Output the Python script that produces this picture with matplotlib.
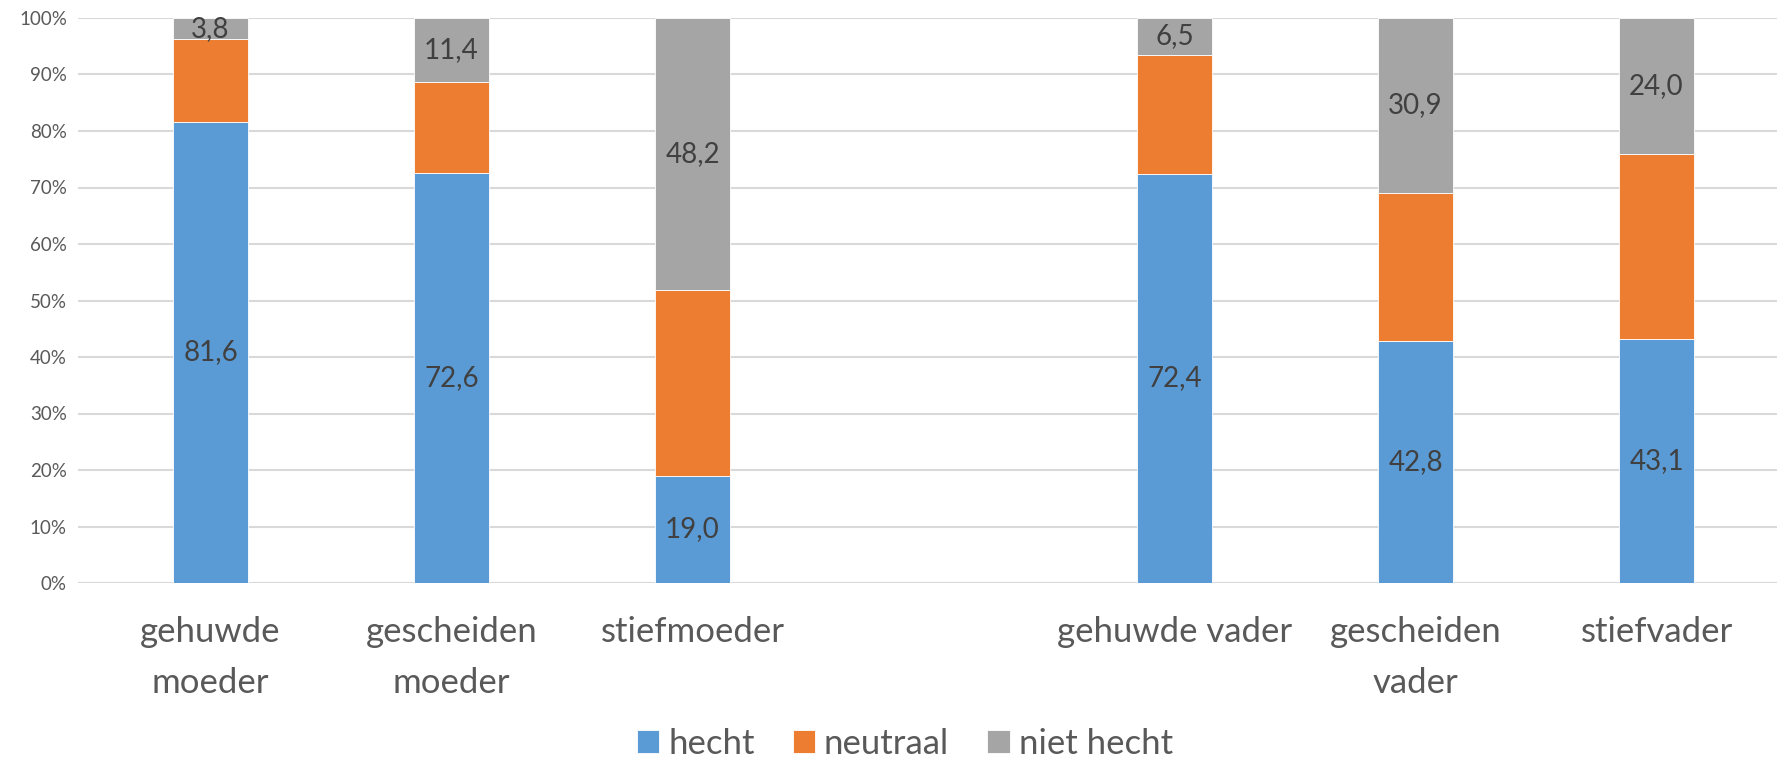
import matplotlib
matplotlib.use("Agg")
import matplotlib.pyplot as plt
import numpy as np

plt.rcParams['font.family'] = ['Lato', 'DejaVu Sans']

# Data (percentages)
categories = ["gehuwde\nmoeder", "gescheiden\nmoeder", "stiefmoeder",
              "gehuwde vader", "gescheiden\nvader", "stiefvader"]
positions = [0, 1, 2, 4, 5, 6]  # empty slot between mothers and fathers
hecht = [81.6, 72.6, 19.0, 72.4, 42.8, 43.1]
niet_hecht = [3.8, 11.4, 48.2, 6.5, 30.9, 24.0]
neutraal = [round(100 - h - n, 1) for h, n in zip(hecht, niet_hecht)]

colors = {'hecht': '#5B9BD5', 'neutraal': '#ED7D31', 'niet hecht': '#A5A5A5'}
grid_color = '#D9D9D9'
text_color = '#595959'
label_color = '#404040'

fig = plt.figure(figsize=(17.81, 7.61), dpi=100)
ax = fig.add_axes([78 / 1781, 1 - 583 / 761, 1699 / 1781, 565 / 761])

width = 0.31
x = np.array(positions)
b1 = ax.bar(x, hecht, width, color=colors['hecht'], edgecolor='white', linewidth=0.6, label='hecht', zorder=3)
b2 = ax.bar(x, neutraal, width, bottom=hecht, color=colors['neutraal'], edgecolor='white', linewidth=0.6,
            label='neutraal', zorder=3)
bottoms = [h + n for h, n in zip(hecht, neutraal)]
b3 = ax.bar(x, niet_hecht, width, bottom=bottoms, color=colors['niet hecht'], edgecolor='white', linewidth=0.6,
            label='niet hecht', zorder=3)

def fmt(v):
    return f"{v:.1f}".replace('.', ',')

ax.bar_label(b1, labels=[fmt(v) for v in hecht], label_type='center', fontsize=20, color=label_color)
ax.bar_label(b3, labels=[fmt(v) for v in niet_hecht], label_type='center', fontsize=20, color=label_color)

ax.set_xlim(-0.55, 6.5)
ax.set_ylim(0, 100)
ax.set_yticks(np.arange(0, 101, 10))
ax.set_yticklabels([f"{v}%" for v in range(0, 101, 10)], fontsize=13.5, color=text_color)
ax.yaxis.grid(True, color=grid_color, linewidth=1.5, zorder=0)
ax.set_axisbelow(True)
ax.set_xticks(positions)
ax.set_xticklabels(categories, fontsize=25, color=text_color, linespacing=1.7)
ax.tick_params(axis='both', length=0)
ax.tick_params(axis='x', pad=24)
ax.tick_params(axis='y', pad=8)
for s in ax.spines.values():
    s.set_visible(False)
ax.axhline(0, color=grid_color, linewidth=1.5, zorder=1)

leg = fig.legend(handles=[b1, b2, b3], loc='center', bbox_to_anchor=(0.508, 1 - 744 / 761), ncol=3,
                 frameon=False, fontsize=25, handlelength=0.65, handleheight=0.65, handletextpad=0.25,
                 columnspacing=1.1)
for t in leg.get_texts():
    t.set_color(text_color)

fig.savefig("out.png", dpi=100)
